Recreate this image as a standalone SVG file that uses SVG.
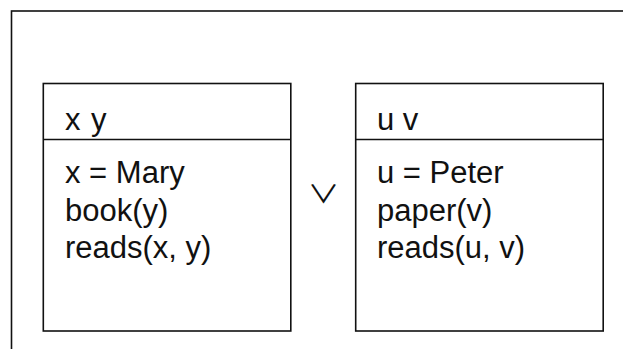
<svg xmlns="http://www.w3.org/2000/svg" width="623" height="349" viewBox="0 0 623 349">
  <style>
    .frame { fill: none; stroke: #111; stroke-width: 1.6; }
    .box { fill: #fff; stroke: #111; stroke-width: 1.6; }
    .rule { stroke: #111; stroke-width: 1.6; }
    .t { font-family: "Liberation Sans", Arial, sans-serif; font-size: 31px; fill: #111; }
    .op { font-family: "Noto Sans CJK JP", "DejaVu Sans", sans-serif; font-size: 32px; font-weight: 400; fill: #111; }
  </style>
  <rect width="623" height="349" fill="#fff"/>
  <!-- outer drs frame, running off the right and bottom edges -->
  <rect class="frame" x="11.5" y="11" width="700" height="400"/>

  <g id="drs-left">
    <rect class="box" x="43.3" y="83.5" width="247.5" height="247.5"/>
    <line class="rule" x1="43.3" y1="139.5" x2="290.8" y2="139.5"/>
    <text class="t" x="65" y="130">x</text>
    <text class="t" x="91" y="130">y</text>
    <text class="t" x="65" y="183">x = Mary</text>
    <text class="t" x="65" y="220.5">book(y)</text>
    <text class="t" x="65" y="258">reads(x, y)</text>
  </g>

  <!-- disjunction sign between the two boxes, squashed a little vertically -->
  <g id="or-sign" transform="translate(323.5 203) scale(1 0.78)">
    <text class="op" x="0" y="0" text-anchor="middle">∨</text>
  </g>

  <g id="drs-right">
    <rect class="box" x="355.7" y="83.5" width="247.5" height="247.5"/>
    <line class="rule" x1="355.7" y1="139.5" x2="603.2" y2="139.5"/>
    <text class="t" x="377" y="130">u v</text>
    <text class="t" x="377" y="183">u = Peter</text>
    <text class="t" x="377" y="220.5">paper(v)</text>
    <text class="t" x="377" y="258">reads(u, v)</text>
  </g>

  <g id="connectors"/>
</svg>
